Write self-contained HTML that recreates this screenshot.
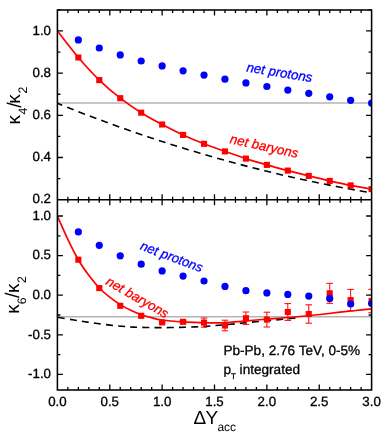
<!DOCTYPE html>
<html><head><meta charset="utf-8"><title>chart</title><style>html,body{margin:0;padding:0;background:#fff}svg{display:block;will-change:transform}text{text-rendering:geometricPrecision;stroke-width:0.3px;stroke-linejoin:round}</style></head><body>
<svg width="381" height="438" viewBox="0 0 381 438">
<rect width="381" height="438" fill="#fff"/>
<defs><clipPath id="ct"><rect x="57.40" y="10.00" width="314.20" height="189.70"/></clipPath><clipPath id="cb"><rect x="57.40" y="199.70" width="314.20" height="190.30"/></clipPath></defs>
<line x1="57.40" x2="371.60" y1="103.0" y2="103.0" stroke="#b4b4b4" stroke-width="1.5"/>
<line x1="57.40" x2="371.60" y1="316.7" y2="316.7" stroke="#b4b4b4" stroke-width="1.5"/>
<g clip-path="url(#ct)">
<path d="M57.40,103.33 C59.58,104.20 66.13,106.84 70.49,108.56 C74.86,110.28 79.22,111.99 83.58,113.66 C87.95,115.34 92.31,117.00 96.68,118.63 C101.04,120.26 105.40,121.88 109.77,123.47 C114.13,125.06 118.49,126.62 122.86,128.17 C127.22,129.71 131.59,131.24 135.95,132.74 C140.31,134.24 144.68,135.72 149.04,137.18 C153.41,138.64 157.77,140.07 162.13,141.49 C166.50,142.90 170.86,144.30 175.23,145.67 C179.59,147.04 183.95,148.39 188.32,149.71 C192.68,151.04 197.04,152.35 201.41,153.63 C205.77,154.91 210.14,156.18 214.50,157.42 C218.86,158.66 223.23,159.88 227.59,161.07 C231.96,162.27 236.32,163.45 240.68,164.60 C245.05,165.76 249.41,166.89 253.78,168.00 C258.14,169.11 262.50,170.20 266.87,171.27 C271.23,172.34 275.59,173.38 279.96,174.41 C284.32,175.44 288.69,176.44 293.05,177.42 C297.41,178.40 301.78,179.37 306.14,180.31 C310.51,181.25 314.87,182.17 319.23,183.06 C323.60,183.96 327.96,184.84 332.33,185.69 C336.69,186.55 341.05,187.38 345.42,188.20 C349.78,189.01 354.14,189.80 358.51,190.57 C362.87,191.34 369.42,192.45 371.60,192.82" fill="none" stroke="#000" stroke-width="1.6" stroke-dasharray="7,5.2" stroke-dashoffset="1.8"/>
<path d="M57.40,30.95 C60.89,35.38 71.36,49.31 78.35,57.50 C85.33,65.69 92.31,73.32 99.29,80.10 C106.28,86.88 113.26,92.77 120.24,98.20 C127.22,103.63 134.20,108.32 141.19,112.70 C148.17,117.08 155.15,120.80 162.13,124.50 C169.12,128.20 176.10,131.68 183.08,134.90 C190.06,138.12 197.04,141.05 204.03,143.80 C211.01,146.55 217.99,148.93 224.97,151.40 C231.96,153.87 238.94,156.35 245.92,158.60 C252.90,160.85 259.88,162.90 266.87,164.90 C273.85,166.90 280.83,168.77 287.81,170.60 C294.80,172.43 301.78,174.18 308.76,175.90 C315.74,177.62 322.72,179.32 329.71,180.90 C336.69,182.48 343.67,184.03 350.65,185.40 C357.64,186.77 368.11,188.48 371.60,189.10" fill="none" stroke="#f00" stroke-width="1.7"/>
<rect x="75.30" y="54.45" width="6.1" height="6.1" fill="#f00"/>
<rect x="96.24" y="77.05" width="6.1" height="6.1" fill="#f00"/>
<rect x="117.19" y="95.15" width="6.1" height="6.1" fill="#f00"/>
<rect x="138.14" y="109.65" width="6.1" height="6.1" fill="#f00"/>
<rect x="159.08" y="121.45" width="6.1" height="6.1" fill="#f00"/>
<rect x="180.03" y="131.85" width="6.1" height="6.1" fill="#f00"/>
<rect x="200.98" y="140.75" width="6.1" height="6.1" fill="#f00"/>
<rect x="221.92" y="148.35" width="6.1" height="6.1" fill="#f00"/>
<rect x="242.87" y="155.55" width="6.1" height="6.1" fill="#f00"/>
<rect x="263.82" y="161.85" width="6.1" height="6.1" fill="#f00"/>
<rect x="284.76" y="167.55" width="6.1" height="6.1" fill="#f00"/>
<rect x="305.71" y="172.85" width="6.1" height="6.1" fill="#f00"/>
<rect x="326.66" y="177.85" width="6.1" height="6.1" fill="#f00"/>
<rect x="347.60" y="182.35" width="6.1" height="6.1" fill="#f00"/>
<rect x="368.55" y="186.05" width="6.1" height="6.1" fill="#f00"/>
<circle cx="78.35" cy="39.90" r="3.6" fill="#00f"/>
<circle cx="99.29" cy="48.00" r="3.6" fill="#00f"/>
<circle cx="120.24" cy="54.90" r="3.6" fill="#00f"/>
<circle cx="141.19" cy="61.00" r="3.6" fill="#00f"/>
<circle cx="162.13" cy="65.90" r="3.6" fill="#00f"/>
<circle cx="183.08" cy="70.80" r="3.6" fill="#00f"/>
<circle cx="204.03" cy="75.10" r="3.6" fill="#00f"/>
<circle cx="224.97" cy="79.20" r="3.6" fill="#00f"/>
<circle cx="245.92" cy="82.90" r="3.6" fill="#00f"/>
<circle cx="266.87" cy="86.50" r="3.6" fill="#00f"/>
<circle cx="287.81" cy="90.10" r="3.6" fill="#00f"/>
<circle cx="308.76" cy="93.30" r="3.6" fill="#00f"/>
<circle cx="329.71" cy="96.80" r="3.6" fill="#00f"/>
<circle cx="350.65" cy="100.30" r="3.6" fill="#00f"/>
<circle cx="371.60" cy="103.20" r="3.6" fill="#00f"/>
</g>
<g clip-path="url(#cb)">
<path d="M57.40,317.30 C59.93,317.72 68.02,319.07 72.60,319.80 C77.18,320.53 80.78,321.08 84.90,321.70 C89.02,322.32 93.12,322.93 97.30,323.50 C101.48,324.07 105.88,324.63 110.00,325.10 C114.12,325.57 118.17,325.97 122.00,326.30 C125.83,326.63 129.00,326.90 133.00,327.10 C137.00,327.30 141.50,327.42 146.00,327.50 C150.50,327.58 155.17,327.60 160.00,327.60 C164.83,327.60 170.00,327.58 175.00,327.50 C180.00,327.42 185.00,327.28 190.00,327.10 C195.00,326.92 200.83,326.65 205.00,326.40 C209.17,326.15 210.73,325.95 215.00,325.60 C219.27,325.25 225.93,324.73 230.60,324.30 C235.27,323.87 238.77,323.43 243.00,323.00 C247.23,322.57 251.50,322.12 256.00,321.70 C260.50,321.28 265.50,320.92 270.00,320.50 C274.50,320.08 278.00,319.72 283.00,319.20 C288.00,318.68 297.17,317.70 300.00,317.40" fill="none" stroke="#000" stroke-width="1.6" stroke-dasharray="7,5.2" stroke-dashoffset="-0.3"/>
<path d="M57.40,216.00 C59.14,219.88 64.37,232.02 67.85,239.30 C71.33,246.58 74.81,253.70 78.30,259.70 C81.79,265.70 85.30,270.58 88.80,275.30 C92.30,280.02 95.77,284.32 99.30,288.00 C102.83,291.68 106.52,294.63 110.00,297.40 C113.48,300.17 116.75,302.45 120.20,304.60 C123.65,306.75 127.20,308.62 130.70,310.30 C134.20,311.98 137.90,313.52 141.20,314.70 C144.50,315.88 147.03,316.52 150.50,317.40 C153.97,318.28 156.58,319.25 162.00,320.00 C167.42,320.75 176.00,321.45 183.00,321.90 C190.00,322.35 198.67,322.53 204.00,322.70 C209.33,322.87 211.50,322.90 215.00,322.90 C218.50,322.90 221.00,322.92 225.00,322.70 C229.00,322.48 233.83,322.05 239.00,321.60 C244.17,321.15 249.67,320.55 256.00,320.00 C262.33,319.45 269.67,318.88 277.00,318.30 C284.33,317.72 292.83,317.13 300.00,316.50 C307.17,315.87 313.33,315.22 320.00,314.50 C326.67,313.78 334.00,312.87 340.00,312.20 C346.00,311.53 350.73,311.07 356.00,310.50 C361.27,309.93 369.00,309.08 371.60,308.80" fill="none" stroke="#f00" stroke-width="1.7"/>
<rect x="75.30" y="256.65" width="6.1" height="6.1" fill="#f00"/>
<rect x="96.24" y="285.05" width="6.1" height="6.1" fill="#f00"/>
<rect x="117.19" y="302.75" width="6.1" height="6.1" fill="#f00"/>
<rect x="138.14" y="312.75" width="6.1" height="6.1" fill="#f00"/>
<path d="M162.13,321.70 V323.10 M158.83,321.70 h6.6 M158.83,323.10 h6.6" stroke="#f00" stroke-width="1.0" fill="none"/>
<rect x="159.08" y="319.35" width="6.1" height="6.1" fill="#f00"/>
<path d="M183.08,320.50 V323.10 M179.78,320.50 h6.6 M179.78,323.10 h6.6" stroke="#f00" stroke-width="1.0" fill="none"/>
<rect x="180.03" y="318.75" width="6.1" height="6.1" fill="#f00"/>
<path d="M204.03,318.00 V327.20 M200.73,318.00 h6.6 M200.73,327.20 h6.6" stroke="#f00" stroke-width="1.0" fill="none"/>
<rect x="200.98" y="319.55" width="6.1" height="6.1" fill="#f00"/>
<path d="M224.97,320.20 V330.80 M221.67,320.20 h6.6 M221.67,330.80 h6.6" stroke="#f00" stroke-width="1.0" fill="none"/>
<rect x="221.92" y="322.45" width="6.1" height="6.1" fill="#f00"/>
<path d="M245.92,312.00 V324.40 M242.62,312.00 h6.6 M242.62,324.40 h6.6" stroke="#f00" stroke-width="1.0" fill="none"/>
<rect x="242.87" y="315.15" width="6.1" height="6.1" fill="#f00"/>
<path d="M266.87,312.20 V327.00 M263.57,312.20 h6.6 M263.57,327.00 h6.6" stroke="#f00" stroke-width="1.0" fill="none"/>
<rect x="263.82" y="316.55" width="6.1" height="6.1" fill="#f00"/>
<path d="M287.81,303.60 V320.40 M284.51,303.60 h6.6 M284.51,320.40 h6.6" stroke="#f00" stroke-width="1.0" fill="none"/>
<rect x="284.76" y="308.95" width="6.1" height="6.1" fill="#f00"/>
<path d="M308.76,304.80 V323.20 M305.46,304.80 h6.6 M305.46,323.20 h6.6" stroke="#f00" stroke-width="1.0" fill="none"/>
<rect x="305.71" y="310.95" width="6.1" height="6.1" fill="#f00"/>
<path d="M329.71,283.30 V303.30 M326.41,283.30 h6.6 M326.41,303.30 h6.6" stroke="#f00" stroke-width="1.0" fill="none"/>
<rect x="326.66" y="290.25" width="6.1" height="6.1" fill="#f00"/>
<path d="M350.65,289.40 V310.80 M347.35,289.40 h6.6 M347.35,310.80 h6.6" stroke="#f00" stroke-width="1.0" fill="none"/>
<rect x="347.60" y="297.05" width="6.1" height="6.1" fill="#f00"/>
<path d="M371.60,289.30 V312.70 M368.30,289.30 h6.6 M368.30,312.70 h6.6" stroke="#f00" stroke-width="1.0" fill="none"/>
<rect x="368.55" y="297.95" width="6.1" height="6.1" fill="#f00"/>
<circle cx="78.35" cy="231.90" r="3.6" fill="#00f"/>
<circle cx="99.29" cy="245.30" r="3.6" fill="#00f"/>
<circle cx="120.24" cy="255.80" r="3.6" fill="#00f"/>
<circle cx="141.19" cy="264.20" r="3.6" fill="#00f"/>
<circle cx="162.13" cy="270.90" r="3.6" fill="#00f"/>
<circle cx="183.08" cy="276.10" r="3.6" fill="#00f"/>
<circle cx="204.03" cy="281.00" r="3.6" fill="#00f"/>
<circle cx="224.97" cy="286.40" r="3.6" fill="#00f"/>
<circle cx="245.92" cy="290.70" r="3.6" fill="#00f"/>
<circle cx="266.87" cy="292.90" r="3.6" fill="#00f"/>
<circle cx="287.81" cy="294.40" r="3.6" fill="#00f"/>
<circle cx="308.76" cy="296.10" r="3.6" fill="#00f"/>
<circle cx="329.71" cy="298.40" r="3.6" fill="#00f"/>
<circle cx="350.65" cy="304.00" r="3.6" fill="#00f"/>
<circle cx="371.60" cy="303.50" r="3.6" fill="#00f"/>
</g>
<g stroke="#000" fill="none">
<rect x="57.40" y="10.00" width="314.20" height="380.00" stroke-width="1.55"/>
<line x1="57.40" x2="371.60" y1="199.70" y2="199.70" stroke-width="1.5"/>
<path d="M67.87,10.00 v3.00 M67.87,196.70 v6.00 M67.87,390.00 v-3.00 M78.35,10.00 v3.00 M78.35,196.70 v6.00 M78.35,390.00 v-3.00 M88.82,10.00 v3.00 M88.82,196.70 v6.00 M88.82,390.00 v-3.00 M99.29,10.00 v3.00 M99.29,196.70 v6.00 M99.29,390.00 v-3.00 M109.77,10.00 v5.50 M109.77,194.20 v11.00 M109.77,390.00 v-5.50 M120.24,10.00 v3.00 M120.24,196.70 v6.00 M120.24,390.00 v-3.00 M130.71,10.00 v3.00 M130.71,196.70 v6.00 M130.71,390.00 v-3.00 M141.19,10.00 v3.00 M141.19,196.70 v6.00 M141.19,390.00 v-3.00 M151.66,10.00 v3.00 M151.66,196.70 v6.00 M151.66,390.00 v-3.00 M162.13,10.00 v5.50 M162.13,194.20 v11.00 M162.13,390.00 v-5.50 M172.61,10.00 v3.00 M172.61,196.70 v6.00 M172.61,390.00 v-3.00 M183.08,10.00 v3.00 M183.08,196.70 v6.00 M183.08,390.00 v-3.00 M193.55,10.00 v3.00 M193.55,196.70 v6.00 M193.55,390.00 v-3.00 M204.03,10.00 v3.00 M204.03,196.70 v6.00 M204.03,390.00 v-3.00 M214.50,10.00 v5.50 M214.50,194.20 v11.00 M214.50,390.00 v-5.50 M224.97,10.00 v3.00 M224.97,196.70 v6.00 M224.97,390.00 v-3.00 M235.45,10.00 v3.00 M235.45,196.70 v6.00 M235.45,390.00 v-3.00 M245.92,10.00 v3.00 M245.92,196.70 v6.00 M245.92,390.00 v-3.00 M256.39,10.00 v3.00 M256.39,196.70 v6.00 M256.39,390.00 v-3.00 M266.87,10.00 v5.50 M266.87,194.20 v11.00 M266.87,390.00 v-5.50 M277.34,10.00 v3.00 M277.34,196.70 v6.00 M277.34,390.00 v-3.00 M287.81,10.00 v3.00 M287.81,196.70 v6.00 M287.81,390.00 v-3.00 M298.29,10.00 v3.00 M298.29,196.70 v6.00 M298.29,390.00 v-3.00 M308.76,10.00 v3.00 M308.76,196.70 v6.00 M308.76,390.00 v-3.00 M319.23,10.00 v5.50 M319.23,194.20 v11.00 M319.23,390.00 v-5.50 M329.71,10.00 v3.00 M329.71,196.70 v6.00 M329.71,390.00 v-3.00 M340.18,10.00 v3.00 M340.18,196.70 v6.00 M340.18,390.00 v-3.00 M350.65,10.00 v3.00 M350.65,196.70 v6.00 M350.65,390.00 v-3.00 M361.13,10.00 v3.00 M361.13,196.70 v6.00 M361.13,390.00 v-3.00 M57.40,178.61 h3.00 M371.60,178.61 h-3.00 M57.40,157.51 h5.50 M371.60,157.51 h-5.50 M57.40,136.42 h3.00 M371.60,136.42 h-3.00 M57.40,115.33 h5.50 M371.60,115.33 h-5.50 M57.40,94.23 h3.00 M371.60,94.23 h-3.00 M57.40,73.14 h5.50 M371.60,73.14 h-5.50 M57.40,52.04 h3.00 M371.60,52.04 h-3.00 M57.40,30.95 h5.50 M371.60,30.95 h-5.50 M57.40,9.86 h3.00 M371.60,9.86 h-3.00 M57.40,374.40 h5.50 M371.60,374.40 h-5.50 M57.40,354.60 h3.00 M371.60,354.60 h-3.00 M57.40,334.80 h5.50 M371.60,334.80 h-5.50 M57.40,315.00 h3.00 M371.60,315.00 h-3.00 M57.40,295.20 h5.50 M371.60,295.20 h-5.50 M57.40,275.40 h3.00 M371.60,275.40 h-3.00 M57.40,255.60 h5.50 M371.60,255.60 h-5.50 M57.40,235.80 h3.00 M371.60,235.80 h-3.00 M57.40,216.00 h5.50 M371.60,216.00 h-5.50" stroke-width="1.3"/>
</g>
<g font-family="Liberation Sans, sans-serif" font-size="13.60" fill="#000" stroke="#000">
<text x="51" y="34.65" text-anchor="end" font-size="13.3">1.0</text>
<text x="51" y="76.84" text-anchor="end" font-size="13.3">0.8</text>
<text x="51" y="119.03" text-anchor="end" font-size="13.3">0.6</text>
<text x="51" y="161.21" text-anchor="end" font-size="13.3">0.4</text>
<text x="51" y="203.40" text-anchor="end" font-size="13.3">0.2</text>
<text x="51" y="219.70" text-anchor="end" font-size="13.3">1.0</text>
<text x="51" y="259.30" text-anchor="end" font-size="13.3">0.5</text>
<text x="51" y="298.90" text-anchor="end" font-size="13.3">0.0</text>
<text x="51" y="338.50" text-anchor="end" font-size="13.3">-0.5</text>
<text x="51" y="378.10" text-anchor="end" font-size="13.3">-1.0</text>
<text x="57.40" y="405.7" text-anchor="middle" font-size="13.3">0.0</text>
<text x="109.77" y="405.7" text-anchor="middle" font-size="13.3">0.5</text>
<text x="162.13" y="405.7" text-anchor="middle" font-size="13.3">1.0</text>
<text x="214.50" y="405.7" text-anchor="middle" font-size="13.3">1.5</text>
<text x="266.87" y="405.7" text-anchor="middle" font-size="13.3">2.0</text>
<text x="319.23" y="405.7" text-anchor="middle" font-size="13.3">2.5</text>
<text x="371.60" y="405.7" text-anchor="middle" font-size="13.3">3.0</text>
<text x="223.4" y="355.2">Pb-Pb, 2.76 TeV, 0-5%</text>
<text x="223.4" y="374.1">p<tspan font-size="8" dy="4.9">T</tspan><tspan dy="-4.9"> integrated</tspan></text>
</g>
<g font-family="Liberation Sans, sans-serif" font-size="13.3" font-style="italic">
<text transform="translate(246.0,71.4) rotate(9.3)" fill="#00f" stroke="#00f">net protons</text>
<text transform="translate(229.3,143.0) rotate(12.5)" fill="#f00" stroke="#f00">net baryons</text>
<text transform="translate(139.4,249.3) rotate(20.5)" fill="#00f" stroke="#00f" font-size="13.1">net protons</text>
<text transform="translate(105.0,284.0) rotate(29.7)" fill="#f00" stroke="#f00">net baryons</text>
</g>
<g font-family="Liberation Sans, sans-serif" font-size="19" fill="#000" stroke="none">
<text y="423.8"><tspan x="193.6">Δ</tspan><tspan x="205.6">Y</tspan><tspan x="217.4" font-size="12" dy="7.2">acc</tspan></text>
<text transform="translate(20.30,124.40) rotate(-90)"><tspan x="0" y="0">κ</tspan><tspan x="9.80" y="6.70" font-size="12.3">4</tspan><tspan x="16.70" y="0.6" font-size="19.8">/</tspan><tspan x="20.70" y="0">κ</tspan><tspan x="31.00" y="6.70" font-size="12.3">2</tspan></text>
<text transform="translate(18.70,313.70) rotate(-90)"><tspan x="0" y="0">κ</tspan><tspan x="9.40" y="7.20" font-size="12.3">6</tspan><tspan x="15.70" y="0.6" font-size="19.8">/</tspan><tspan x="20.60" y="0">κ</tspan><tspan x="30.60" y="7.20" font-size="12.3">2</tspan></text>
</g>
</svg>
</body></html>
